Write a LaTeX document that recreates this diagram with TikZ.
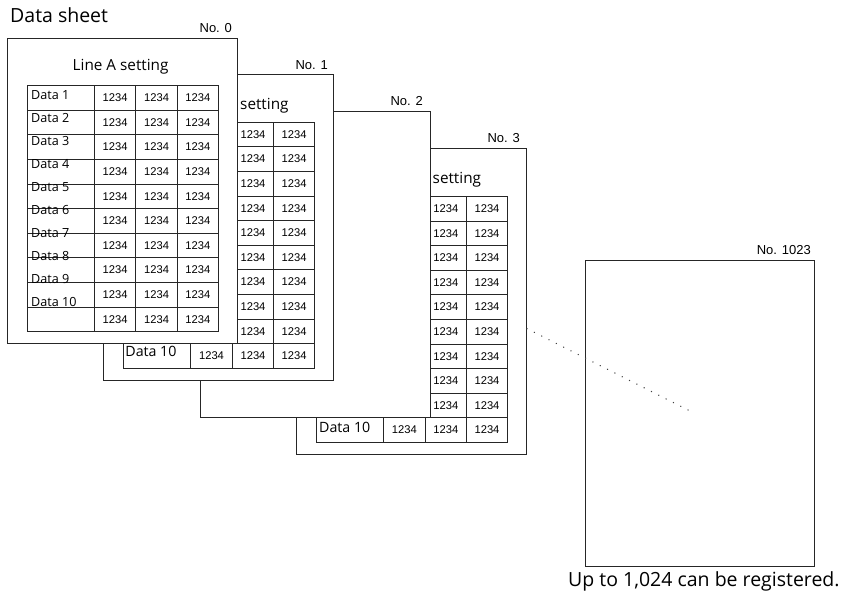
\documentclass[tikz,border=0pt]{standalone}
\usepackage{fontspec}
\setmainfont{Open Sans}
\newfontfamily\arialf{Liberation Sans}
\definecolor{linec}{HTML}{262626}
\definecolor{dotc}{HTML}{404040}
\tikzset{
  sheetbox/.style={draw=linec, fill=white, line width=1pt, rectangle,
    minimum width=230pt, minimum height=305.5pt, anchor=north west, inner sep=0pt},
  lastbox/.style={sheetbox, minimum width=229pt},
  gridline/.style={draw=linec, line width=1pt},
  numtext/.style={font=\arialf\fontsize{11.2}{12}\selectfont, inner sep=0pt},
  notext/.style={font=\arialf\fontsize{13}{14}\selectfont, inner sep=0pt, anchor=base east},
  datatext/.style={font=\fontsize{12.6}{14}\selectfont, inner sep=0pt, anchor=base west},
  bigdatatext/.style={font=\fontsize{14.2}{16}\selectfont, inner sep=0pt, anchor=base west},
  titletext/.style={font=\fontsize{15.3}{17}\selectfont, inner sep=0pt},
  captext/.style={font=\fontsize{19.5}{22}\selectfont, inner sep=0pt, anchor=base west},
  dotline/.style={draw=dotc, line width=1.4pt, line cap=round, dash pattern=on 0.1pt off 8.1pt},
}
\newcommand\mytable{%
  \draw[gridline, fill=white] (20.5,48) rectangle (211.5,294);
  \foreach \r in {1,...,9} \draw[gridline] (20.5,{48+24.6*\r}) -- (211.5,{48+24.6*\r});
  \foreach \c in {87.6,129,170.5} \draw[gridline] (\c,48) -- (\c,294);
  \foreach \r in {0,...,9} \foreach \c in {108.3,149.8,191}
    \node[numtext] at (\c,{60.3+24.6*\r}) {1234};
}
\begin{document}
\begin{tikzpicture}[x=1pt,y=-1pt]
\useasboundingbox (0,0) rectangle (850,594);

\node[captext] (title) at (10,22.7) {Data sheet};

% sheet No. 1023
\node[lastbox, minimum height=305.5pt] (sheet1023) at (585,260) {};
\node[notext] (no1023) at (811,254) {No. 1023};
\node[captext] (cap) at (568,586.7) {Up to 1,024 can be registered.};

% sheet No. 3
\node[sheetbox] (sheet3) at (296,148.4) {};
\begin{scope}[shift={(296,148.4)}]
  \mytable
  \node[bigdatatext] (d3) at (23,284.5) {Data 10};
  \node[titletext, anchor=base west] (t3) at (136.5,35) {setting};
  \node[notext] (no3) at (224,-5.5) {No. 3};
\end{scope}

% dotted connector
\coordinate (dotstart) at ([yshift=-27pt]sheet3.east);
\coordinate (dotend) at (692,412);
\draw[dotline] (dotstart) -- (dotend);

% sheet No. 2
\node[sheetbox] (sheet2) at (199.5,111.2) {};
\node[notext] (no2) at (423,105.7) {No. 2};

% sheet No. 1
\node[sheetbox] (sheet1) at (103.2,74.2) {};
\begin{scope}[shift={(103.2,74.2)}]
  \mytable
  \node[bigdatatext] (d1) at (22,282.5) {Data 10};
  \node[titletext, anchor=base west] (t1) at (136.8,35) {setting};
  \node[notext] (no1) at (224.8,-5.2) {No. 1};
\end{scope}

% sheet No. 0
\node[sheetbox] (sheet0) at (6.8,37.6) {};
\begin{scope}[shift={(6.8,37.6)}]
  \mytable
  \foreach \i in {1,...,10}
    \node[datatext] at (24.2,{61.7+23.04*(\i-1)}) {Data \i};
  \node[titletext, anchor=base] (t0) at (113.8,33.1) {Line A setting};
  \node[notext] (no0) at (225.3,-5.3) {No. 0};
\end{scope}
\end{tikzpicture}
\end{document}
